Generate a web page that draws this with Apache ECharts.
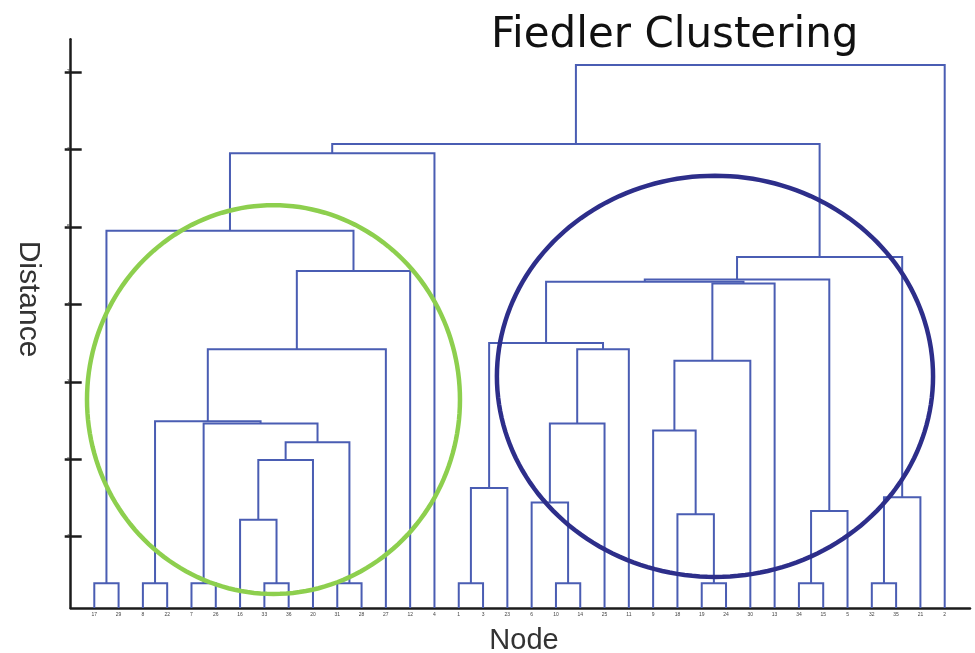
<!DOCTYPE html>
<html>
<head>
<meta charset="utf-8">
<script src="https://cdn.jsdelivr.net/npm/echarts@6/dist/echarts.min.js"></script>
<style>
html,body{margin:0;padding:0;background:#fff;}
#chart{width:975px;height:653px;}
</style>
</head>
<body>
<div id="chart"></div>
<script>
// Leaf labels in display order (left to right)
const leafLabels = ['17','29','8','22','7','26','16','33','36','20','31','28','27','12','4','1','3','23',
                    '6','10','14','25','11','9','18','19','24','30','13','34','15','5','32','35','21','2'];

// Merges: [left child, right child, distance]; ids 0..35 are leaves, merge k gets id 36+k
const merges = [
  [0, 1, 0.40],    // 36
  [2, 3, 0.40],    // 37
  [4, 5, 0.40],    // 38
  [7, 8, 0.40],    // 39
  [10, 11, 0.40],  // 40
  [6, 39, 1.22],   // 41
  [41, 9, 1.99],   // 42
  [42, 40, 2.22],  // 43
  [38, 43, 2.46],  // 44
  [37, 44, 2.49],  // 45
  [45, 12, 3.42],  // 46
  [46, 13, 4.43],  // 47
  [36, 47, 4.95],  // 48
  [48, 14, 5.95],  // 49
  [15, 16, 0.40],  // 50
  [50, 17, 1.63],  // 51
  [19, 20, 0.40],  // 52
  [18, 52, 1.44],  // 53
  [53, 21, 2.46],  // 54
  [54, 22, 3.42],  // 55
  [51, 55, 3.50],  // 56
  [25, 26, 0.40],  // 57
  [24, 57, 1.29],  // 58
  [23, 58, 2.37],  // 59
  [59, 27, 3.27],  // 60
  [60, 28, 4.27],  // 61
  [56, 61, 4.29],  // 62
  [29, 30, 0.40],  // 63
  [63, 31, 1.33],  // 64
  [62, 64, 4.32],  // 65
  [32, 33, 0.40],  // 66
  [66, 34, 1.51],  // 67
  [65, 67, 4.61],  // 68
  [49, 68, 6.07],  // 69
  [69, 35, 7.09]   // 70
];

// Distance axis ticks
const yTicks = [1, 2, 3, 4, 5, 6, 7];
const yTickLabels = ['1', '2', '3', '4', '5', '6', '7'];

// Highlighted cluster regions: [leaf index from, leaf index to, distance from, distance to]
const clusterRegions = [
  [-0.30, 15.05, 0.26, 5.28],
  [16.57, 34.52, 0.48, 5.66]
];
const clusterColors = ['#8dcf4e', '#2d2e8a'];

const X_MIN = -0.971, X_MAX = 36.041;
const Y_MIN = 0.079, Y_MAX = 7.422;

// Build link segments from the merge table
const nodePos = [];
for (let i = 0; i < leafLabels.length; i++) nodePos.push({ x: i, y: Y_MIN });
const links = [];
merges.forEach(function (m) {
  const a = nodePos[m[0]], b = nodePos[m[1]];
  links.push([a.x, a.y, b.x, b.y, m[2]]);
  nodePos.push({ x: (a.x + b.x) / 2, y: m[2] });
});

const leafIdx = leafLabels.map(function (_, i) { return i; });
const LINE = '#4a5db3';
const AXIS = '#1c1c1c';

const chart = echarts.init(document.getElementById('chart'), null, { renderer: 'canvas' });
chart.setOption({
  animation: false,
  backgroundColor: '#ffffff',
  title: {
    text: 'Fiedler Clustering',
    left: 486,
    top: 10,
    textStyle: { fontFamily: 'DejaVu Sans', fontSize: 42, fontWeight: 'normal', color: '#111' }
  },
  grid: { left: 70.7, right: 5, top: 39.3, bottom: 45, containLabel: false },
  xAxis: {
    type: 'value',
    min: X_MIN,
    max: X_MAX,
    axisLine: { show: true, onZero: false, lineStyle: { color: AXIS, width: 2.5 } },
    axisTick: { show: false },
    splitLine: { show: false },
    axisLabel: {
      customValues: leafIdx,
      formatter: function (v) { return leafLabels[Math.round(v)]; },
      fontSize: 5,
      color: '#444',
      margin: 4,
      fontFamily: 'Liberation Sans'
    }
  },
  yAxis: [
    {
      type: 'value',
      min: Y_MIN,
      max: Y_MAX,
      axisLine: { show: true, onZero: false, lineStyle: { color: AXIS, width: 2.5 } },
      axisTick: { show: true, inside: true, length: 11, customValues: yTicks, lineStyle: { color: AXIS, width: 2.5 } },
      axisLabel: { show: false },
      splitLine: { show: false }
    },
    {
      type: 'value',
      min: Y_MIN,
      max: Y_MAX,
      position: 'left',
      axisLine: { show: false, onZero: false },
      axisTick: { show: true, inside: false, length: 6, customValues: yTicks, lineStyle: { color: AXIS, width: 2.5 } },
      axisLabel: {
        customValues: yTicks,
        formatter: function (v) { const i = yTicks.indexOf(Math.round(v)); return i >= 0 ? yTickLabels[i] : ''; },
        fontSize: 5, color: '#444', margin: 1, fontFamily: 'Liberation Sans'
      },
      splitLine: { show: false }
    }
  ],
  graphic: [
    {
      type: 'text', x: 28, y: 299, rotation: -Math.PI / 2,
      style: { text: 'Distance', fontFamily: 'Liberation Sans', fontSize: 30, fill: '#333', align: 'center', verticalAlign: 'middle' }
    },
    {
      type: 'text', x: 524, y: 641,
      style: { text: 'Node', fontFamily: 'Liberation Sans', fontSize: 29, fill: '#333', align: 'center', verticalAlign: 'middle' }
    }
  ],
  series: [
    {
      type: 'custom',
      name: 'dendrogram',
      xAxisIndex: 0,
      yAxisIndex: 0,
      encode: { x: [0, 2], y: [1, 3, 4] },
      data: links,
      silent: true,
      z: 2,
      renderItem: function (params, api) {
        const p1 = api.coord([api.value(0), api.value(1)]);
        const p2 = api.coord([api.value(0), api.value(4)]);
        const p3 = api.coord([api.value(2), api.value(4)]);
        const p4 = api.coord([api.value(2), api.value(3)]);
        return {
          type: 'polyline',
          shape: { points: [p1, p2, p3, p4] },
          style: { stroke: LINE, lineWidth: 2, fill: null }
        };
      }
    },
    {
      type: 'custom',
      name: 'clusters',
      xAxisIndex: 0,
      yAxisIndex: 0,
      encode: { x: [0, 1], y: [2, 3] },
      data: clusterRegions,
      silent: true,
      z: 5,
      renderItem: function (params, api) {
        const a = api.coord([api.value(0), api.value(2)]);
        const b = api.coord([api.value(1), api.value(3)]);
        const cx = (a[0] + b[0]) / 2, cy = (a[1] + b[1]) / 2;
        const rx = Math.abs(b[0] - a[0]) / 2, ry = Math.abs(b[1] - a[1]) / 2;
        const pts = [];
        for (let k = 0; k < 180; k++) {
          const t = k / 180 * Math.PI * 2;
          pts.push([cx + rx * Math.cos(t), cy + ry * Math.sin(t)]);
        }
        return {
          type: 'polygon',
          shape: { points: pts },
          style: { stroke: clusterColors[params.dataIndex], lineWidth: 4.5, fill: null }
        };
      }
    }
  ]
});
</script>
</body>
</html>
